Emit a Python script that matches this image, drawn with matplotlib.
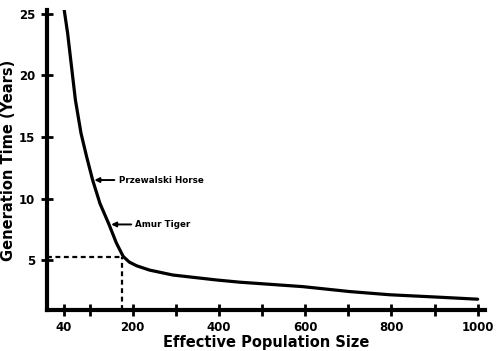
import matplotlib.pyplot as plt

# values
pop_size = [41, 49, 58, 67, 80, 93, 107, 124, 145, 162, 178, 192, 209, 239, 293,
            394, 448, 594, 703, 796, 912, 1000]
gen_time = [25.3, 23.4, 20.7, 18.0, 15.3, 13.4, 11.5, 9.6, 7.9, 6.4, 5.3, 4.85, 4.55,
            4.2, 3.8, 3.4, 3.22, 2.86, 2.46, 2.2, 2.0, 1.84]

knee_x = 176
knee_y = 5.25

x_ticks = [40, 200, 400, 600, 800, 1000]
x_minor = [100, 300, 500, 700, 900]
y_ticks = [5, 10, 15, 20, 25]

animals = ["Przewalski Horse", "Amur Tiger"]
animal_x = [107, 146]
animal_y = [11.5, 7.9]

fig = plt.figure(figsize=(5, 3.51), dpi=100)
ax = fig.add_axes([0.093, 0.117, 0.877, 0.855])

ax.plot(pop_size, gen_time, color="black", lw=2.3, solid_capstyle="round",
        solid_joinstyle="round")
ax.plot([0, knee_x], [knee_y, knee_y], color="black", lw=1.6, ls=(0, (2.2, 1.6)))
ax.plot([knee_x, knee_x], [0.97, knee_y], color="black", lw=1.6, ls=(0, (2.2, 1.6)))

for name, ax_x, ax_y in zip(animals, animal_x, animal_y):
    ax.annotate(name, xy=(ax_x + 4, ax_y), xytext=(ax_x + 60, ax_y),
                fontsize=6.3, fontweight="bold", va="center", ha="left",
                arrowprops=dict(arrowstyle="-|>", color="black", lw=1.4,
                                mutation_scale=7, shrinkA=1, shrinkB=0))

ax.set_xlim(0, 1017)
ax.set_ylim(0.97, 25.3)

ax.set_xticks(x_ticks)
ax.set_xticks(x_minor, minor=True)
ax.set_yticks(y_ticks)
ax.tick_params(direction="inout", length=8, width=2, labelsize=8.5, pad=4)
ax.tick_params(which="minor", direction="inout", length=8, width=2)
for lbl in ax.get_xticklabels() + ax.get_yticklabels():
    lbl.set_fontweight("bold")

for side in ["top", "right"]:
    ax.spines[side].set_visible(False)
for side in ["left", "bottom"]:
    ax.spines[side].set_linewidth(3)

ax.set_xlabel("Effective Population Size", fontsize=10.5, fontweight="bold", labelpad=1)
ax.set_ylabel("Generation Time (Years)", fontsize=10.5, fontweight="bold", labelpad=2)

fig.savefig("out.png", dpi=100)
